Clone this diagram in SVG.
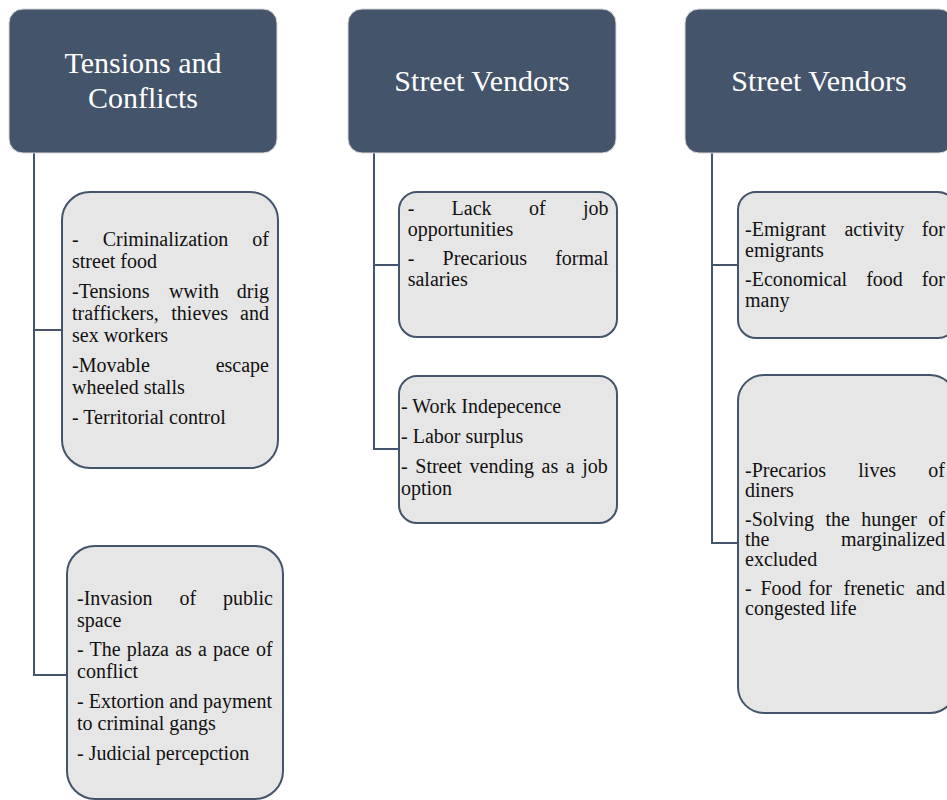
<svg xmlns="http://www.w3.org/2000/svg" width="947" height="800" viewBox="0 0 947 800">
<style>
.hdr{fill:#44546a;stroke:#d9d9d9;stroke-width:1}
.box{fill:#e7e6e6;stroke:#44546a;stroke-width:2}
.con{fill:none;stroke:#44546a;stroke-width:2}
.ht{font-family:"Liberation Serif","Times New Roman",serif;font-size:30px;fill:#ffffff;text-anchor:middle}
.t{font-family:"Liberation Serif","Times New Roman",serif;font-size:20px;fill:#111111}
.e{text-anchor:end}
</style>
<rect width="947" height="800" fill="#ffffff"/>
<g id="connectors">
<path class="con" d="M34,153 V675 H67 M34,330 H62"/>
<path class="con" d="M374,153 V449 H399 M374,265 H399"/>
<path class="con" d="M712,153 V543 H738 M712,265 H738"/>
</g>
<g id="header1">
<rect class="hdr" x="9" y="9" width="268" height="144" rx="14"/>
<text class="ht" x="143" y="73">Tensions and</text>
<text class="ht" x="143" y="108">Conflicts</text>
</g>
<g id="header2">
<rect class="hdr" x="348" y="9" width="268" height="144" rx="14"/>
<text class="ht" x="482" y="91">Street Vendors</text>
</g>
<g id="header3">
<rect class="hdr" x="685" y="9" width="268" height="144" rx="14"/>
<text class="ht" x="819" y="91">Street Vendors</text>
</g>
<g id="box1">
<rect class="box" x="62" y="192" width="216" height="276" rx="28"/>
<text class="t" x="72" y="246">-</text>
<text class="t" x="102.7" y="246">Criminalization</text>
<text class="t e" x="269" y="246">of</text>
<text class="t" x="72" y="268">street food</text>
<text class="t" x="72" y="298">-Tensions</text>
<text class="t" x="168.9" y="298">wwith</text>
<text class="t e" x="269" y="298">drig</text>
<text class="t" x="72" y="320">traffickers,</text>
<text class="t" x="171.3" y="320">thieves</text>
<text class="t e" x="269" y="320">and</text>
<text class="t" x="72" y="342">sex workers</text>
<text class="t" x="72" y="372">-Movable</text>
<text class="t e" x="269" y="372">escape</text>
<text class="t" x="72" y="394">wheeled stalls</text>
<text class="t" x="72" y="424">- Territorial control</text>
</g>
<g id="box2">
<rect class="box" x="67" y="546" width="216" height="253" rx="28"/>
<text class="t" x="77" y="605">-Invasion</text>
<text class="t" x="179.4" y="605">of</text>
<text class="t e" x="273" y="605">public</text>
<text class="t" x="77" y="627">space</text>
<text class="t" x="77" y="656" word-spacing="1.2">- The plaza as a pace of</text>
<text class="t" x="77" y="678">conflict</text>
<text class="t" x="77" y="708">- Extortion and payment</text>
<text class="t" x="77" y="730">to criminal gangs</text>
<text class="t" x="77" y="760">- Judicial percepction</text>
</g>
<g id="box3">
<rect class="box" x="399" y="192" width="218" height="145" rx="18"/>
<text class="t" x="407.7" y="215">-</text>
<text class="t" x="451.6" y="215">Lack</text>
<text class="t" x="528.9" y="215">of</text>
<text class="t e" x="608.5" y="215">job</text>
<text class="t" x="407.7" y="236">opportunities</text>
<text class="t" x="407.7" y="265">-</text>
<text class="t" x="442.6" y="265">Precarious</text>
<text class="t e" x="608.5" y="265">formal</text>
<text class="t" x="407.7" y="286">salaries</text>
</g>
<g id="box4">
<rect class="box" x="399" y="376" width="218" height="147" rx="18"/>
<text class="t" x="401" y="413">- Work Indepecence</text>
<text class="t" x="401" y="443">- Labor surplus</text>
<text class="t" x="401" y="473" word-spacing="2.6">- Street vending as a job</text>
<text class="t" x="401" y="495">option</text>
</g>
<g id="box5">
<rect class="box" x="738" y="192" width="218" height="146" rx="18"/>
<text class="t" x="745" y="236">-Emigrant</text>
<text class="t" x="844.4" y="236">activity</text>
<text class="t e" x="945" y="236">for</text>
<text class="t" x="745" y="257">emigrants</text>
<text class="t" x="745" y="286">-Economical</text>
<text class="t" x="866.2" y="286">food</text>
<text class="t e" x="945" y="286">for</text>
<text class="t" x="745" y="307">many</text>
</g>
<g id="box6">
<rect class="box" x="738" y="375" width="218" height="338" rx="26"/>
<text class="t" x="745" y="477">-Precarios</text>
<text class="t" x="858.3" y="477">lives</text>
<text class="t e" x="945" y="477">of</text>
<text class="t" x="745" y="497">diners</text>
<text class="t" x="745" y="526">-Solving</text>
<text class="t" x="825.4" y="526">the</text>
<text class="t" x="861.3" y="526">hunger</text>
<text class="t e" x="945" y="526">of</text>
<text class="t" x="745" y="546">the</text>
<text class="t e" x="945" y="546">marginalized</text>
<text class="t" x="745" y="566">excluded</text>
<text class="t" x="745" y="595">-</text>
<text class="t" x="760.5" y="595">Food</text>
<text class="t" x="808.5" y="595">for</text>
<text class="t" x="843.5" y="595">frenetic</text>
<text class="t e" x="945" y="595">and</text>
<text class="t" x="745" y="615">congested life</text>
</g>
</svg>
